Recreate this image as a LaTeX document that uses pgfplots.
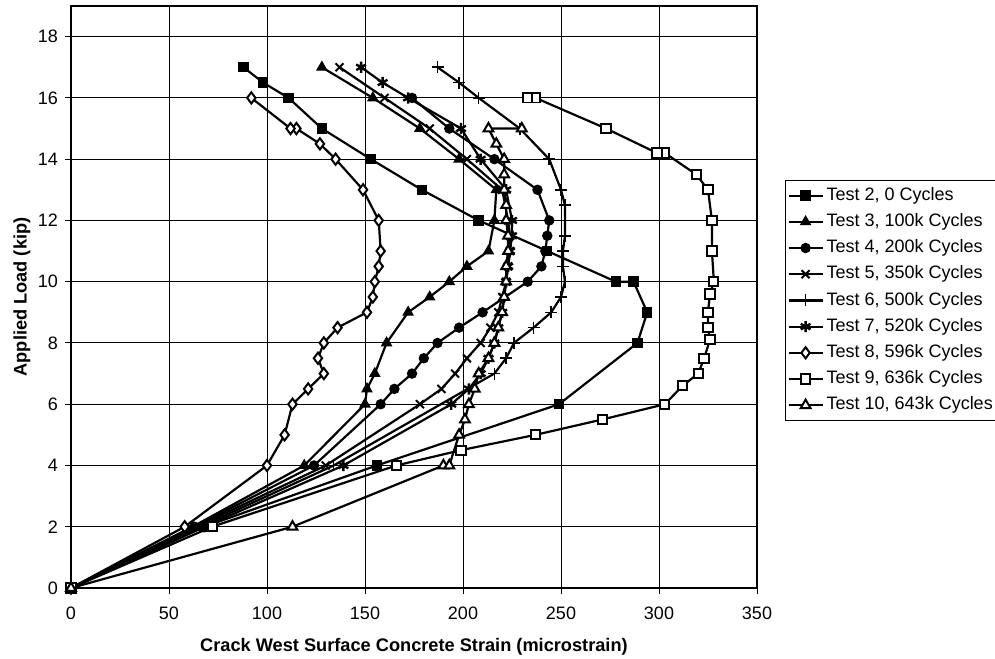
\documentclass[border=0pt]{standalone}
\usepackage{fontspec}
\setmainfont{Liberation Sans}
\usepackage{pgfplots}
\pgfplotsset{compat=1.18}
\begin{document}
\begin{tikzpicture}
\path[use as bounding box] (0,0) rectangle (497.5bp,-329.5bp);
\begin{axis}[
  at={(35.5bp,-294bp)}, anchor=south west,
  width=343bp, height=291bp, scale only axis,
  xmin=0, xmax=350, ymin=0, ymax=19,
  xtick={0,50,...,350}, ytick={0,2,...,18},
  grid=major, major grid style={black, line width=0.5pt},
  axis line style={black, line width=0.6pt},
  tick align=outside, tick pos=left, major tick length=3bp,
  tick style={black, line width=0.5pt},
  /pgf/number format/assume math mode=true,
  tick label style={font=\fontsize{9bp}{10bp}\selectfont},
  xticklabel style={yshift=-3bp},
  xlabel={\bfseries Crack West Surface Concrete Strain (microstrain)},
  ylabel={\bfseries Applied Load (kip)},
  label style={font=\fontsize{9.1bp}{10bp}\selectfont},
  xlabel style={at={(axis description cs:0.5,-0.1014)}, anchor=center},
  ylabel style={at={(axis description cs:-0.0714,0.5)}, anchor=center},
  legend style={at={(axis description cs:1.0408,0.701)}, anchor=north west,
    font=\fontsize{9bp}{10bp}\selectfont, draw=black, line width=0.5pt,
    inner xsep=1bp, inner ysep=1bp,
    nodes={inner ysep=2.1bp, inner xsep=1.5bp, text height=6.8bp, text depth=2.1bp}},
  legend cell align=left,
  every axis plot/.append style={black, line width=1.1pt, mark size=2.3bp, mark options={solid, line width=0.6pt}},
]
% Test 2
\addplot[mark=square*] coordinates {(0,0)(68,2)(156,4)(249,6)(289,8)(294,9)(287,10)(278,10)(243,11)(208,12)(179,13)(153,14)(128,15)(111,16)(98,16.5)(88,17)};
\addlegendentry{Test 2, 0 Cycles}
% Test 3
\addplot[mark=triangle*, mark size=2.8bp] coordinates {(0,0)(62,2)(119,4)(150,6)(151,6.5)(155,7)(161,8)(172,9)(183,9.5)(193,10)(202,10.5)(213,11)(216,12)(217,13)(198,14)(178,15)(154,16)(128,17)};
\addlegendentry{Test 3, 100k Cycles}
% Test 4
\addplot[mark=*] coordinates {(0,0)(63,2)(124,4)(158,6)(165,6.5)(174,7)(180,7.5)(187,8)(198,8.5)(210,9)(233,10)(240,10.5)(242,11)(243,11.5)(244,12)(238,13)(216,14)(193,15)(174,16)};
\addlegendentry{Test 4, 200k Cycles}
% Test 5
\addplot[mark=x, mark size=2.8bp, mark options={line width=1pt}] coordinates {(0,0)(64,2)(130,4)(178,6)(189,6.5)(196,7)(202,7.5)(209,8)(214,8.5)(218,9)(220,9.5)(222,10)(223,10.5)(224,11)(224,11.5)(223,12)(220,13)(202,14)(183,15)(160,16)(137,17)};
\addlegendentry{Test 5, 350k Cycles}
% Test 6
\addplot[mark=+, mark size=3bp, mark options={line width=0.8pt}] coordinates {(0,0)(66,2)(134,4)(216,7)(222,7.5)(226,8)(236,8.5)(245,9)(250,9.5)(252,10)(251,10.5)(251,11)(252,11.5)(252,12)(252,12.5)(250,13)(244,14)(229,15)(208,16)(198,16.5)(187,17)};
\addlegendentry{Test 6, 500k Cycles}
% Test 7
\addplot[mark=asterisk, mark size=2.8bp, mark options={line width=1.2pt}] coordinates {(0,0)(68,2)(139,4)(194,6)(203,6.5)(209,7)(213,7.5)(216,8)(218,8.5)(220,9)(221,9.5)(222,10)(223,10.5)(224,11)(225,11.5)(225,12)(222,13)(209,14)(199,15)(172,16)(159,16.5)(148,17)};
\addlegendentry{Test 7, 520k Cycles}
% Test 8
\addplot[mark=diamond*, mark size=2.8bp, mark options={fill=white, line width=1pt}] coordinates {(0,0)(58,2)(100,4)(109,5)(113,6)(121,6.5)(129,7)(126,7.5)(129,8)(136,8.5)(151,9)(154,9.5)(155,10)(157,10.5)(158,11)(157,12)(149,13)(135,14)(127,14.5)(115,15)(112,15)(92,16)};
\addlegendentry{Test 8, 596k Cycles}
% Test 9
\addplot[mark=square*, mark options={fill=white, line width=1pt}] coordinates {(0,0)(72,2)(166,4)(199,4.5)(237,5)(271,5.5)(303,6)(312,6.6)(320,7)(323,7.5)(326,8.1)(325,8.5)(325,9)(326,9.6)(328,10)(327,11)(327,12)(325,13)(319,13.5)(303,14.2)(299,14.2)(273,15)(237,16)(233,16)};
\addlegendentry{Test 9, 636k Cycles}
% Test 10
\addplot[mark=triangle*, mark size=2.8bp, mark options={fill=white, line width=1pt}] coordinates {(0,0)(113,2)(190,4)(193,4)(198,5)(201,5.5)(203,6)(206,6.5)(208,7)(213,7.5)(216,8)(218,8.5)(220,9)(221,9.5)(222,10)(222,10.5)(223,11)(223,11.5)(222,12)(222,12.5)(221,13)(221,13.5)(221,14)(217,14.5)(213,15)(230,15)};
\addlegendentry{Test 10, 643k Cycles}
\end{axis}
\end{tikzpicture}
\end{document}
